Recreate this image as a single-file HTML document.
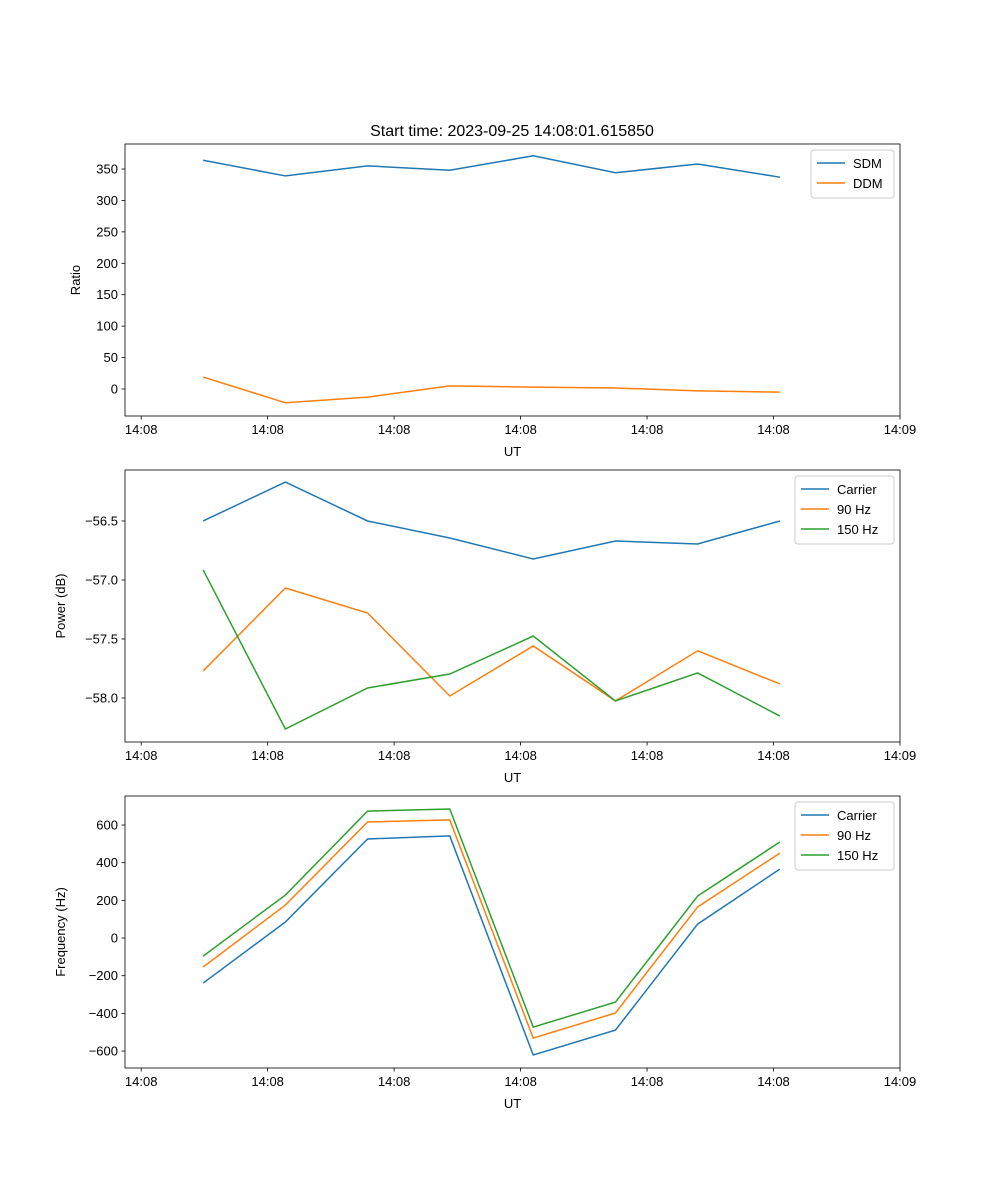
<!DOCTYPE html>
<html><head><meta charset="utf-8"><style>
body{margin:0;background:#fff;font-family:"Liberation Sans","DejaVu Sans",sans-serif}
svg{display:block}
</style></head><body>
<svg id="chart" width="1000" height="1200"></svg>
<script>
const times=[4.9,11.4,17.9,24.4,31.0,37.5,44.0,50.5];
const xTicks=[0,10,20,30,40,50,60];
const xTickLabels=["14:08","14:08","14:08","14:08","14:08","14:08","14:09"];
const sdm=[364,339,355,348,371,344,358,337];
const ddm=[19,-22,-13,5,3,1.6,-3,-5];
const pCarrier=[-56.5,-56.17,-56.5,-56.644,-56.822,-56.67,-56.695,-56.5];
const p90=[-57.771,-57.068,-57.28,-57.983,-57.559,-58.025,-57.60,-57.881];
const p150=[-56.915,-58.263,-57.915,-57.797,-57.475,-58.025,-57.788,-58.153];
const fCarrier=[-239,85,526,542,-621,-489,74,366];
const f90=[-154,175,616,627,-531,-398,165,451];
const f150=[-96,228,674,685,-473,-340,223,510];
const ratioTicks=[0,50,100,150,200,250,300,350];
const powerTicks=[-58.0,-57.5,-57.0,-56.5];
const freqTicks=[-600,-400,-200,0,200,400,600];

const NS="http://www.w3.org/2000/svg";
const svg=document.getElementById('chart');
function mk(t,a,p){const e=document.createElementNS(NS,t);for(const k in a)e.setAttribute(k,a[k]);(p||svg).appendChild(e);return e;}
const L=125,R=900,X0=-1.28,X1=60;
const xs=v=>L+(v-X0)/(X1-X0)*(R-L);
const C=['#1f77b4','#ff7f0e','#2ca02c'];

function panel(name,top,bot,y0,y1,yTicks,yFmt,ylabel,series,labels,legW){
  const g=mk('g',{});
  
  
  const ys=v=>bot-(v-y0)/(y1-y0)*(bot-top);
  series.forEach((s,i)=>{
    const pl=mk('polyline',{points:s.map((v,j)=>xs(times[j])+','+ys(v)).join(' '),fill:'none',stroke:C[i],'stroke-width':1.5},g);
    
    
  });
  mk('rect',{x:L,y:top,width:R-L,height:bot-top,fill:'none',stroke:'#000','stroke-width':0.8},g);
  xTicks.forEach((t,i)=>{const x=xs(t);mk('line',{x1:x,x2:x,y1:bot,y2:bot+3.5,stroke:'#000','stroke-width':0.8},g);
    const tx=mk('text',{x:x,y:bot+18,'text-anchor':'middle','font-size':13},g);tx.textContent=xTickLabels[i];
    });
  yTicks.forEach(t=>{const y=ys(t);mk('line',{x1:L-3.5,x2:L,y1:y,y2:y,stroke:'#000','stroke-width':0.8},g);
    const tx=mk('text',{x:L-7,y:y+4.5,'text-anchor':'end','font-size':13},g);tx.textContent=yFmt(t);
    });
  const xl=mk('text',{x:(L+R)/2,y:bot+40,'text-anchor':'middle','font-size':13},g);xl.textContent='UT';
  
  const yx=L-(ylabel==='Ratio'?45:60);
  const yl=mk('text',{x:yx,y:(top+bot)/2,'text-anchor':'middle','font-size':13,transform:`rotate(-90 ${yx} ${(top+bot)/2})`},g);yl.textContent=ylabel;
  
  const lg=mk('g',{},g);
  
  const lx=R-6-legW, ly=top+6;
  mk('rect',{x:lx,y:ly,width:legW,height:8+labels.length*20,fill:'#fff',stroke:'#ccc',rx:3},lg);
  labels.forEach((lab,i)=>{const y=ly+13+i*20;
    mk('line',{x1:lx+6,x2:lx+34,y1:y,y2:y,stroke:C[i],'stroke-width':1.5},lg);
    const t=mk('text',{x:lx+42,y:y+5,'font-size':13},lg);t.textContent=lab;
    });
}
const ti=mk('text',{x:512,y:136,'text-anchor':'middle','font-size':16});
ti.textContent='Start time: 2023-09-25 14:08:01.615850';

panel('ratio-panel',144,416,-43,389.8,ratioTicks,v=>String(v),'Ratio',[sdm,ddm],['SDM','DDM'],83);
panel('power-panel',470,742,-58.373,-56.068,powerTicks,v=>(v<0?'\u2212':'')+Math.abs(v).toFixed(1),'Power (dB)',[pCarrier,p90,p150],['Carrier','90 Hz','150 Hz'],99);
panel('frequency-panel',796,1068,-690,754,freqTicks,v=>(v<0?'\u2212':'')+Math.abs(v),'Frequency (Hz)',[fCarrier,f90,f150],['Carrier','90 Hz','150 Hz'],99);
</script>
</body></html>
